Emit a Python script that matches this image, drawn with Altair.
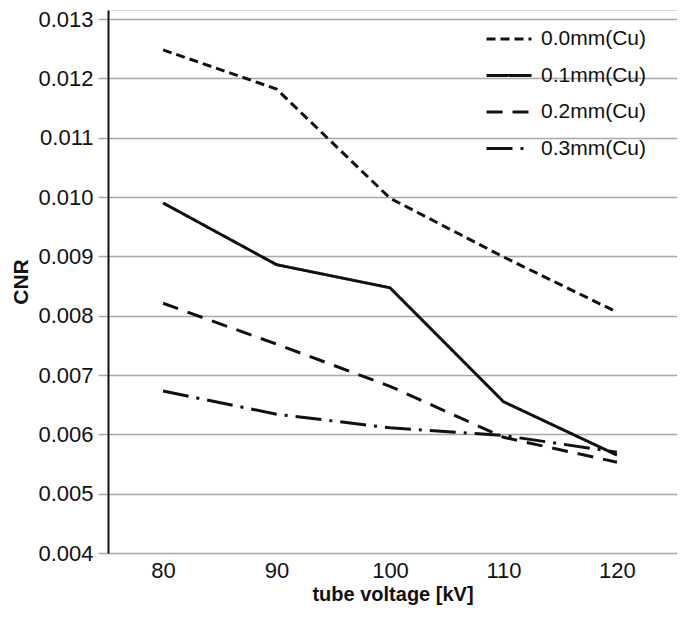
import altair as alt
import pandas as pd

voltages = [80, 90, 100, 110, 120]
series_names = ["0.0mm(Cu)", "0.1mm(Cu)", "0.2mm(Cu)", "0.3mm(Cu)"]
cnr_00 = [0.01248, 0.01182, 0.00998, 0.00899, 0.00806]
cnr_01 = [0.00990, 0.00886, 0.00847, 0.00655, 0.00565]
cnr_02 = [0.00821, 0.00752, 0.00681, 0.00595, 0.00553]
cnr_03 = [0.00673, 0.00634, 0.00611, 0.00598, 0.00570]
y_ticks = [0.004, 0.005, 0.006, 0.007, 0.008, 0.009, 0.010, 0.011, 0.012, 0.013]

rows = []
for name, vals in zip(series_names, [cnr_00, cnr_01, cnr_02, cnr_03]):
    for v, c in zip(voltages, vals):
        rows.append({"voltage": v, "CNR": c, "series": name})
df = pd.DataFrame(rows)

FONT = "Liberation Sans"

chart = alt.Chart(df).mark_line(strokeWidth=3, color="#111111").encode(
    x=alt.X("voltage:Q",
            scale=alt.Scale(domain=[75.15, 125.29], nice=False, zero=False),
            axis=alt.Axis(values=voltages, title="tube voltage [kV]", grid=False,
                          domain=False, ticks=False, labelFontSize=22,
                          labelColor="#111111", labelPadding=7,
                          titleFontSize=20, titleFontWeight="bold",
                          titleColor="#111111", titlePadding=3, labelFont=FONT,
                          titleFont=FONT)),
    y=alt.Y("CNR:Q",
            scale=alt.Scale(domain=[0.004, 0.013152], nice=False, zero=False),
            axis=alt.Axis(values=y_ticks, format=".3f", title="CNR",
                          grid=True, gridColor="#a8a8a8", gridWidth=1.5,
                          domain=True, domainColor="#111111", domainWidth=2,
                          ticks=True, tickSize=10, tickColor="#a8a8a8", tickWidth=1.5,
                          labelFontSize=22, labelColor="#111111", labelPadding=5,
                          titleFontSize=21, titleFontWeight="bold",
                          titleColor="#111111", titlePadding=6,
                          labelFont=FONT, titleFont=FONT)),
    strokeDash=alt.StrokeDash("series:N",
        scale=alt.Scale(domain=series_names,
                        range=[[9, 5], [1, 0], [16, 10], [26, 8, 3, 8]]),
        legend=alt.Legend(title=None, orient="none", legendX=377, legendY=5,
                          symbolType="stroke", symbolSize=2025, symbolStrokeWidth=3,
                          symbolStrokeColor="#111111",
                          labelFontSize=21, labelFont=FONT, labelColor="#111111",
                          rowPadding=2.5, labelOffset=8)),
).properties(
    width=569, height=543,
    autosize=alt.AutoSizeParams(type="none"),
    padding={"left": 100, "top": 2, "right": 0, "bottom": 59},
).configure_view(stroke=None).configure(background="white")

chart.save("out.html", embed_options={"renderer": "svg", "actions": False})
